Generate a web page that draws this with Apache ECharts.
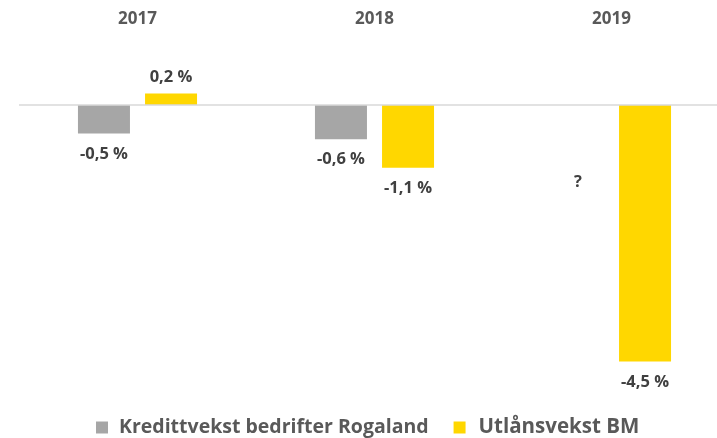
<!DOCTYPE html>
<html>
<head>
<meta charset="utf-8">
<script src="https://cdn.jsdelivr.net/npm/echarts@6/dist/echarts.min.js"></script>
<style>html,body{margin:0;padding:0;background:#fff}#c{width:717px;height:438px}</style>
</head>
<body>
<div id="c"></div>
<script>
var categories = ['2017', '2018', '2019'];
var seriesNames = ['Kredittvekst bedrifter Rogaland', 'Utlånsvekst BM'];
var kreditt = [-0.5, -0.6, null];
var utlaan = [0.2, -1.1, -4.5];
// unknown value for 2019 Rogaland, marked with "?"
var unknownIndex = 2;
var unknownLabelValue = -1.0;
var unknownText = '?';

var FONT = 'Open Sans';
function fmt(v) { return v.toFixed(1).replace('.', ',') + ' %'; }
function item(v) {
  return {
    value: v,
    label: { show: true, position: v >= 0 ? 'top' : 'bottom', distance: v >= 0 ? 8 : 12, formatter: fmt(v) }
  };
}
var kData = kreditt.map(function (v, i) {
  if (v === null && i === unknownIndex) {
    return { value: unknownLabelValue, itemStyle: { color: 'rgba(0,0,0,0)' },
      label: { show: true, position: 'bottom', distance: 12, formatter: unknownText } };
  }
  return v === null ? null : item(v);
});
var uData = utlaan.map(item);

var chart = echarts.init(document.getElementById('c'));
chart.setOption({
  animation: false,
  textStyle: { fontFamily: FONT },
  grid: { left: 19, width: 711, top: 48, bottom: 48, outerBoundsMode: 'none', containLabel: false },
  legend: {
    bottom: -5, left: 91,
    itemWidth: 12, itemHeight: 12, itemGap: 25, icon: 'rect',
    textStyle: { fontFamily: FONT, fontWeight: 'bold', fontSize: 19.5, color: '#595959', padding: [0, 0, 0, 6] },
    data: [
      { name: seriesNames[0] },
      { name: seriesNames[1], textStyle: { fontSize: 20.5, padding: [0, 0, 0, 8] } }
    ]
  },
  xAxis: {
    type: 'category', data: categories, position: 'top',
    axisLine: { show: false, onZero: false }, axisTick: { show: false },
    axisLabel: { margin: 20, fontFamily: FONT, fontWeight: 'bold', fontSize: 17, color: '#595959' }
  },
  yAxis: {
    type: 'value', min: -5, max: 1, show: false,
    splitLine: { show: false }
  },
  series: [
    {
      name: seriesNames[0], type: 'bar', data: kData, barWidth: 52, barGap: '29%',
      itemStyle: { color: '#A6A6A6' },
      label: { fontFamily: FONT, fontWeight: 'bold', fontSize: 16.5, color: '#404040' },
      markLine: {
        silent: true, symbol: 'none', label: { show: false },
        lineStyle: { color: '#D9D9D9', type: 'solid', width: 1.5 },
        data: [{ yAxis: 0 }]
      }
    },
    {
      name: seriesNames[1], type: 'bar', data: uData, barWidth: 52,
      itemStyle: { color: '#FFD700' },
      label: { fontFamily: FONT, fontWeight: 'bold', fontSize: 16.5, color: '#404040' }
    }
  ]
});
</script>
</body>
</html>
